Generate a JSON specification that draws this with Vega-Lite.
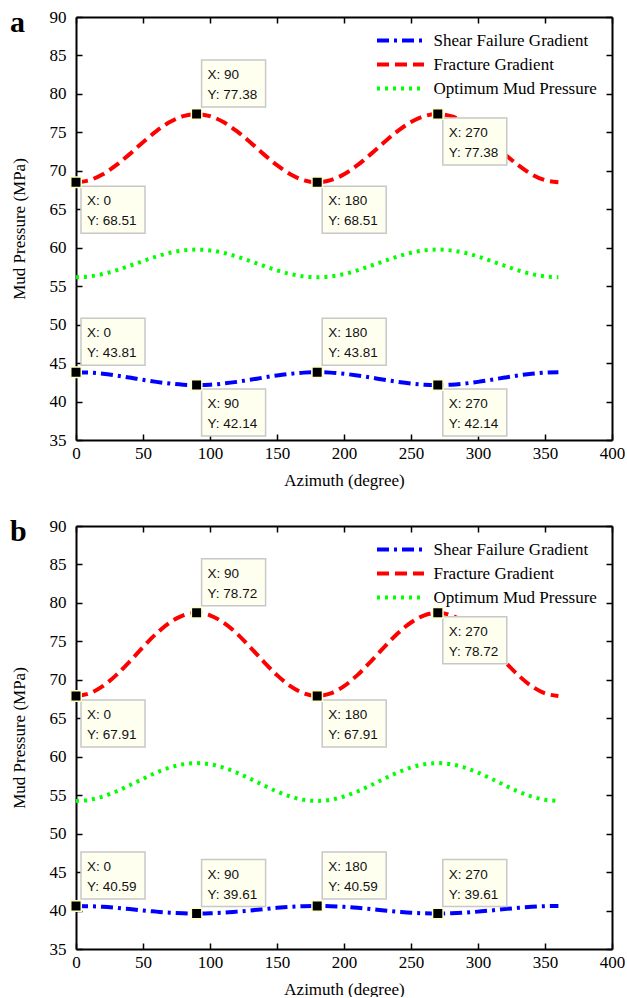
{
  "$schema": "https://vega.github.io/schema/vega-lite/v6.json",
  "background": "white",
  "padding": {"left": 10, "top": 8, "right": 0, "bottom": 0},
  "config": {
    "view": {"stroke": null},
    "legend": {
      "labelFont": "Liberation Serif",
      "labelFontSize": 17,
      "labelColor": "black",
      "labelLimit": 400,
      "symbolType": "M-4,0H4",
      "symbolSize": 138,
      "symbolStrokeWidth": 4,
      "symbolOpacity": 1,
      "labelOffset": 24.5,
      "rowPadding": 6,
      "padding": 0,
      "offset": 15
    }
  },
  "datasets": {
    "a_lines": [
      {"series":"Shear Failure Gradient","x":0,"y":43.81},{"series":"Shear Failure Gradient","x":10,"y":43.76},{"series":"Shear Failure Gradient","x":20,"y":43.61},{"series":"Shear Failure Gradient","x":30,"y":43.39},{"series":"Shear Failure Gradient","x":40,"y":43.12},{"series":"Shear Failure Gradient","x":50,"y":42.83},{"series":"Shear Failure Gradient","x":60,"y":42.56},{"series":"Shear Failure Gradient","x":70,"y":42.34},{"series":"Shear Failure Gradient","x":80,"y":42.19},{"series":"Shear Failure Gradient","x":90,"y":42.14},
      {"series":"Shear Failure Gradient","x":100,"y":42.19},{"series":"Shear Failure Gradient","x":110,"y":42.34},{"series":"Shear Failure Gradient","x":120,"y":42.56},{"series":"Shear Failure Gradient","x":130,"y":42.83},{"series":"Shear Failure Gradient","x":140,"y":43.12},{"series":"Shear Failure Gradient","x":150,"y":43.39},{"series":"Shear Failure Gradient","x":160,"y":43.61},{"series":"Shear Failure Gradient","x":170,"y":43.76},{"series":"Shear Failure Gradient","x":180,"y":43.81},
      {"series":"Shear Failure Gradient","x":190,"y":43.76},{"series":"Shear Failure Gradient","x":200,"y":43.61},{"series":"Shear Failure Gradient","x":210,"y":43.39},{"series":"Shear Failure Gradient","x":220,"y":43.12},{"series":"Shear Failure Gradient","x":230,"y":42.83},{"series":"Shear Failure Gradient","x":240,"y":42.56},{"series":"Shear Failure Gradient","x":250,"y":42.34},{"series":"Shear Failure Gradient","x":260,"y":42.19},{"series":"Shear Failure Gradient","x":270,"y":42.14},
      {"series":"Shear Failure Gradient","x":280,"y":42.19},{"series":"Shear Failure Gradient","x":290,"y":42.34},{"series":"Shear Failure Gradient","x":300,"y":42.56},{"series":"Shear Failure Gradient","x":310,"y":42.83},{"series":"Shear Failure Gradient","x":320,"y":43.12},{"series":"Shear Failure Gradient","x":330,"y":43.39},{"series":"Shear Failure Gradient","x":340,"y":43.61},{"series":"Shear Failure Gradient","x":350,"y":43.76},{"series":"Shear Failure Gradient","x":360,"y":43.81},
      {"series":"Fracture Gradient","x":0,"y":68.51},{"series":"Fracture Gradient","x":10,"y":68.78},{"series":"Fracture Gradient","x":20,"y":69.55},{"series":"Fracture Gradient","x":30,"y":70.73},{"series":"Fracture Gradient","x":40,"y":72.17},{"series":"Fracture Gradient","x":50,"y":73.72},{"series":"Fracture Gradient","x":60,"y":75.16},{"series":"Fracture Gradient","x":70,"y":76.34},{"series":"Fracture Gradient","x":80,"y":77.11},{"series":"Fracture Gradient","x":90,"y":77.38},
      {"series":"Fracture Gradient","x":100,"y":77.11},{"series":"Fracture Gradient","x":110,"y":76.34},{"series":"Fracture Gradient","x":120,"y":75.16},{"series":"Fracture Gradient","x":130,"y":73.72},{"series":"Fracture Gradient","x":140,"y":72.17},{"series":"Fracture Gradient","x":150,"y":70.73},{"series":"Fracture Gradient","x":160,"y":69.55},{"series":"Fracture Gradient","x":170,"y":68.78},{"series":"Fracture Gradient","x":180,"y":68.51},
      {"series":"Fracture Gradient","x":190,"y":68.78},{"series":"Fracture Gradient","x":200,"y":69.55},{"series":"Fracture Gradient","x":210,"y":70.73},{"series":"Fracture Gradient","x":220,"y":72.17},{"series":"Fracture Gradient","x":230,"y":73.72},{"series":"Fracture Gradient","x":240,"y":75.16},{"series":"Fracture Gradient","x":250,"y":76.34},{"series":"Fracture Gradient","x":260,"y":77.11},{"series":"Fracture Gradient","x":270,"y":77.38},
      {"series":"Fracture Gradient","x":280,"y":77.11},{"series":"Fracture Gradient","x":290,"y":76.34},{"series":"Fracture Gradient","x":300,"y":75.16},{"series":"Fracture Gradient","x":310,"y":73.72},{"series":"Fracture Gradient","x":320,"y":72.17},{"series":"Fracture Gradient","x":330,"y":70.73},{"series":"Fracture Gradient","x":340,"y":69.55},{"series":"Fracture Gradient","x":350,"y":68.78},{"series":"Fracture Gradient","x":360,"y":68.51},
      {"series":"Optimum Mud Pressure","x":0,"y":56.16},{"series":"Optimum Mud Pressure","x":10,"y":56.27},{"series":"Optimum Mud Pressure","x":20,"y":56.58},{"series":"Optimum Mud Pressure","x":30,"y":57.06},{"series":"Optimum Mud Pressure","x":40,"y":57.65},{"series":"Optimum Mud Pressure","x":50,"y":58.27},{"series":"Optimum Mud Pressure","x":60,"y":58.86},{"series":"Optimum Mud Pressure","x":70,"y":59.34},{"series":"Optimum Mud Pressure","x":80,"y":59.65},{"series":"Optimum Mud Pressure","x":90,"y":59.76},
      {"series":"Optimum Mud Pressure","x":100,"y":59.65},{"series":"Optimum Mud Pressure","x":110,"y":59.34},{"series":"Optimum Mud Pressure","x":120,"y":58.86},{"series":"Optimum Mud Pressure","x":130,"y":58.27},{"series":"Optimum Mud Pressure","x":140,"y":57.65},{"series":"Optimum Mud Pressure","x":150,"y":57.06},{"series":"Optimum Mud Pressure","x":160,"y":56.58},{"series":"Optimum Mud Pressure","x":170,"y":56.27},{"series":"Optimum Mud Pressure","x":180,"y":56.16},
      {"series":"Optimum Mud Pressure","x":190,"y":56.27},{"series":"Optimum Mud Pressure","x":200,"y":56.58},{"series":"Optimum Mud Pressure","x":210,"y":57.06},{"series":"Optimum Mud Pressure","x":220,"y":57.65},{"series":"Optimum Mud Pressure","x":230,"y":58.27},{"series":"Optimum Mud Pressure","x":240,"y":58.86},{"series":"Optimum Mud Pressure","x":250,"y":59.34},{"series":"Optimum Mud Pressure","x":260,"y":59.65},{"series":"Optimum Mud Pressure","x":270,"y":59.76},
      {"series":"Optimum Mud Pressure","x":280,"y":59.65},{"series":"Optimum Mud Pressure","x":290,"y":59.34},{"series":"Optimum Mud Pressure","x":300,"y":58.86},{"series":"Optimum Mud Pressure","x":310,"y":58.27},{"series":"Optimum Mud Pressure","x":320,"y":57.65},{"series":"Optimum Mud Pressure","x":330,"y":57.06},{"series":"Optimum Mud Pressure","x":340,"y":56.58},{"series":"Optimum Mud Pressure","x":350,"y":56.27},{"series":"Optimum Mud Pressure","x":360,"y":56.16}
    ],
    "b_lines": [
      {"series":"Shear Failure Gradient","x":0,"y":40.59},{"series":"Shear Failure Gradient","x":10,"y":40.56},{"series":"Shear Failure Gradient","x":20,"y":40.48},{"series":"Shear Failure Gradient","x":30,"y":40.35},{"series":"Shear Failure Gradient","x":40,"y":40.19},{"series":"Shear Failure Gradient","x":50,"y":40.01},{"series":"Shear Failure Gradient","x":60,"y":39.86},{"series":"Shear Failure Gradient","x":70,"y":39.72},{"series":"Shear Failure Gradient","x":80,"y":39.64},{"series":"Shear Failure Gradient","x":90,"y":39.61},
      {"series":"Shear Failure Gradient","x":100,"y":39.64},{"series":"Shear Failure Gradient","x":110,"y":39.72},{"series":"Shear Failure Gradient","x":120,"y":39.86},{"series":"Shear Failure Gradient","x":130,"y":40.01},{"series":"Shear Failure Gradient","x":140,"y":40.19},{"series":"Shear Failure Gradient","x":150,"y":40.35},{"series":"Shear Failure Gradient","x":160,"y":40.48},{"series":"Shear Failure Gradient","x":170,"y":40.56},{"series":"Shear Failure Gradient","x":180,"y":40.59},
      {"series":"Shear Failure Gradient","x":190,"y":40.56},{"series":"Shear Failure Gradient","x":200,"y":40.48},{"series":"Shear Failure Gradient","x":210,"y":40.35},{"series":"Shear Failure Gradient","x":220,"y":40.19},{"series":"Shear Failure Gradient","x":230,"y":40.01},{"series":"Shear Failure Gradient","x":240,"y":39.86},{"series":"Shear Failure Gradient","x":250,"y":39.72},{"series":"Shear Failure Gradient","x":260,"y":39.64},{"series":"Shear Failure Gradient","x":270,"y":39.61},
      {"series":"Shear Failure Gradient","x":280,"y":39.64},{"series":"Shear Failure Gradient","x":290,"y":39.72},{"series":"Shear Failure Gradient","x":300,"y":39.86},{"series":"Shear Failure Gradient","x":310,"y":40.01},{"series":"Shear Failure Gradient","x":320,"y":40.19},{"series":"Shear Failure Gradient","x":330,"y":40.35},{"series":"Shear Failure Gradient","x":340,"y":40.48},{"series":"Shear Failure Gradient","x":350,"y":40.56},{"series":"Shear Failure Gradient","x":360,"y":40.59},
      {"series":"Fracture Gradient","x":0,"y":67.91},{"series":"Fracture Gradient","x":10,"y":68.24},{"series":"Fracture Gradient","x":20,"y":69.18},{"series":"Fracture Gradient","x":30,"y":70.61},{"series":"Fracture Gradient","x":40,"y":72.38},{"series":"Fracture Gradient","x":50,"y":74.25},{"series":"Fracture Gradient","x":60,"y":76.02},{"series":"Fracture Gradient","x":70,"y":77.45},{"series":"Fracture Gradient","x":80,"y":78.39},{"series":"Fracture Gradient","x":90,"y":78.72},
      {"series":"Fracture Gradient","x":100,"y":78.39},{"series":"Fracture Gradient","x":110,"y":77.45},{"series":"Fracture Gradient","x":120,"y":76.02},{"series":"Fracture Gradient","x":130,"y":74.25},{"series":"Fracture Gradient","x":140,"y":72.38},{"series":"Fracture Gradient","x":150,"y":70.61},{"series":"Fracture Gradient","x":160,"y":69.18},{"series":"Fracture Gradient","x":170,"y":68.24},{"series":"Fracture Gradient","x":180,"y":67.91},
      {"series":"Fracture Gradient","x":190,"y":68.24},{"series":"Fracture Gradient","x":200,"y":69.18},{"series":"Fracture Gradient","x":210,"y":70.61},{"series":"Fracture Gradient","x":220,"y":72.38},{"series":"Fracture Gradient","x":230,"y":74.25},{"series":"Fracture Gradient","x":240,"y":76.02},{"series":"Fracture Gradient","x":250,"y":77.45},{"series":"Fracture Gradient","x":260,"y":78.39},{"series":"Fracture Gradient","x":270,"y":78.72},
      {"series":"Fracture Gradient","x":280,"y":78.39},{"series":"Fracture Gradient","x":290,"y":77.45},{"series":"Fracture Gradient","x":300,"y":76.02},{"series":"Fracture Gradient","x":310,"y":74.25},{"series":"Fracture Gradient","x":320,"y":72.38},{"series":"Fracture Gradient","x":330,"y":70.61},{"series":"Fracture Gradient","x":340,"y":69.18},{"series":"Fracture Gradient","x":350,"y":68.24},{"series":"Fracture Gradient","x":360,"y":67.91},
      {"series":"Optimum Mud Pressure","x":0,"y":54.25},{"series":"Optimum Mud Pressure","x":10,"y":54.40},{"series":"Optimum Mud Pressure","x":20,"y":54.83},{"series":"Optimum Mud Pressure","x":30,"y":55.48},{"series":"Optimum Mud Pressure","x":40,"y":56.29},{"series":"Optimum Mud Pressure","x":50,"y":57.13},{"series":"Optimum Mud Pressure","x":60,"y":57.94},{"series":"Optimum Mud Pressure","x":70,"y":58.59},{"series":"Optimum Mud Pressure","x":80,"y":59.02},{"series":"Optimum Mud Pressure","x":90,"y":59.17},
      {"series":"Optimum Mud Pressure","x":100,"y":59.02},{"series":"Optimum Mud Pressure","x":110,"y":58.59},{"series":"Optimum Mud Pressure","x":120,"y":57.94},{"series":"Optimum Mud Pressure","x":130,"y":57.13},{"series":"Optimum Mud Pressure","x":140,"y":56.29},{"series":"Optimum Mud Pressure","x":150,"y":55.48},{"series":"Optimum Mud Pressure","x":160,"y":54.83},{"series":"Optimum Mud Pressure","x":170,"y":54.40},{"series":"Optimum Mud Pressure","x":180,"y":54.25},
      {"series":"Optimum Mud Pressure","x":190,"y":54.40},{"series":"Optimum Mud Pressure","x":200,"y":54.83},{"series":"Optimum Mud Pressure","x":210,"y":55.48},{"series":"Optimum Mud Pressure","x":220,"y":56.29},{"series":"Optimum Mud Pressure","x":230,"y":57.13},{"series":"Optimum Mud Pressure","x":240,"y":57.94},{"series":"Optimum Mud Pressure","x":250,"y":58.59},{"series":"Optimum Mud Pressure","x":260,"y":59.02},{"series":"Optimum Mud Pressure","x":270,"y":59.17},
      {"series":"Optimum Mud Pressure","x":280,"y":59.02},{"series":"Optimum Mud Pressure","x":290,"y":58.59},{"series":"Optimum Mud Pressure","x":300,"y":57.94},{"series":"Optimum Mud Pressure","x":310,"y":57.13},{"series":"Optimum Mud Pressure","x":320,"y":56.29},{"series":"Optimum Mud Pressure","x":330,"y":55.48},{"series":"Optimum Mud Pressure","x":340,"y":54.83},{"series":"Optimum Mud Pressure","x":350,"y":54.40},{"series":"Optimum Mud Pressure","x":360,"y":54.25}
    ],
    "a_tips": [
      {"series":"Fracture Gradient","x":0,"y":68.51},{"series":"Fracture Gradient","x":90,"y":77.38},{"series":"Fracture Gradient","x":180,"y":68.51},{"series":"Fracture Gradient","x":270,"y":77.38},
      {"series":"Shear Failure Gradient","x":0,"y":43.81},{"series":"Shear Failure Gradient","x":90,"y":42.14},{"series":"Shear Failure Gradient","x":180,"y":43.81},{"series":"Shear Failure Gradient","x":270,"y":42.14}
    ],
    "b_tips": [
      {"series":"Fracture Gradient","x":0,"y":67.91},{"series":"Fracture Gradient","x":90,"y":78.72},{"series":"Fracture Gradient","x":180,"y":67.91},{"series":"Fracture Gradient","x":270,"y":78.72},
      {"series":"Shear Failure Gradient","x":0,"y":40.59},{"series":"Shear Failure Gradient","x":90,"y":39.61},{"series":"Shear Failure Gradient","x":180,"y":40.59},{"series":"Shear Failure Gradient","x":270,"y":39.61}
    ]
  },
  "resolve": {
    "scale": {"color": "independent", "strokeDash": "independent"},
    "legend": {"color": "independent", "strokeDash": "independent"}
  },
  "spacing": 29,
  "vconcat": [
    {
      "width": 536,
      "height": 423,
      "title": {"text": "a", "anchor": "start", "frame": "bounds", "font": "Liberation Serif", "fontSize": 30, "fontWeight": "bold", "color": "black", "offset": 0, "dy": 30},
      "resolve": {"axis": {"x": "independent", "y": "independent"}},
      "layer": [
        {
          "data": {"name": "a_lines"},
          "mark": {"type": "line", "strokeWidth": 4, "interpolate": "monotone"},
          "encoding": {
            "x": {"field": "x", "type": "quantitative", "scale": {"domain": [0, 400], "nice": false, "zero": false},
              "axis": {"orient": "bottom", "values": [0,50,100,150,200,250,300,350,400], "labelFlush": false, "labelOverlap": false, "grid": false, "domainColor": "black", "domainWidth": 2, "tickColor": "black", "tickWidth": 1.5, "tickSize": -6, "labelPadding": 11, "labelFont": "Liberation Serif", "labelFontSize": 17, "labelColor": "black", "title": "Azimuth (degree)", "titleFont": "Liberation Serif", "titleFontSize": 17, "titleFontWeight": "normal", "titleColor": "black", "titlePadding": 11}},
            "y": {"field": "y", "type": "quantitative", "scale": {"domain": [35, 90], "nice": false, "zero": false},
              "axis": {"orient": "left", "values": [35,40,45,50,55,60,65,70,75,80,85,90], "labelFlush": false, "labelOverlap": false, "grid": false, "domainColor": "black", "domainWidth": 2, "tickColor": "black", "tickWidth": 1.5, "tickSize": -6, "labelPadding": 16, "labelFont": "Liberation Serif", "labelFontSize": 17, "labelColor": "black", "title": "Mud Pressure (MPa)", "titleFont": "Liberation Serif", "titleFontSize": 17, "titleFontWeight": "normal", "titleColor": "black", "titlePadding": 21}},
            "color": {"field": "series", "type": "nominal", "scale": {"domain": ["Shear Failure Gradient", "Fracture Gradient", "Optimum Mud Pressure"], "range": ["#0000FF", "#FF0000", "#00FF00"]}, "legend": {"title": null, "orient": "top-right"}},
            "strokeDash": {"field": "series", "type": "nominal", "scale": {"domain": ["Shear Failure Gradient", "Fracture Gradient", "Optimum Mud Pressure"], "range": [[12, 5, 3, 5], [12, 6], [3, 5]]}, "legend": {"title": null, "orient": "top-right"}}
          }
        },
        {
          "data": {"name": "a_tips"},
          "transform": [{"filter": "!((datum.series == 'Fracture Gradient' && datum.x == 90) || (datum.series == 'Shear Failure Gradient' && (datum.x == 0 || datum.x == 180)))"}],
          "mark": {"type": "point", "shape": "M5,4H69V51H5Z", "size": 4, "filled": true, "fill": "#FFFFF0", "stroke": "#C8C8C8", "strokeWidth": 1.5, "opacity": 1},
          "encoding": {"x": {"field": "x", "type": "quantitative", "axis": null}, "y": {"field": "y", "type": "quantitative", "axis": null}}
        },
        {
          "data": {"name": "a_tips"},
          "transform": [{"filter": "(datum.series == 'Fracture Gradient' && datum.x == 90) || (datum.series == 'Shear Failure Gradient' && (datum.x == 0 || datum.x == 180))"}],
          "mark": {"type": "point", "shape": "M5,-7H69V-54H5Z", "size": 4, "filled": true, "fill": "#FFFFF0", "stroke": "#C8C8C8", "strokeWidth": 1.5, "opacity": 1},
          "encoding": {"x": {"field": "x", "type": "quantitative", "axis": null}, "y": {"field": "y", "type": "quantitative", "axis": null}}
        },
        {
          "data": {"name": "a_tips"},
          "transform": [
            {"filter": "!((datum.series == 'Fracture Gradient' && datum.x == 90) || (datum.series == 'Shear Failure Gradient' && (datum.x == 0 || datum.x == 180)))"},
            {"calculate": "'X: ' + datum.x + '\\nY: ' + format(datum.y, '.2f')", "as": "label"}
          ],
          "mark": {"type": "text", "align": "left", "baseline": "alphabetic", "dx": 11, "dy": 23, "font": "Liberation Sans", "fontSize": 13.5, "lineHeight": 20, "lineBreak": "\n", "color": "#111111"},
          "encoding": {"x": {"field": "x", "type": "quantitative", "axis": null}, "y": {"field": "y", "type": "quantitative", "axis": null}, "text": {"field": "label"}}
        },
        {
          "data": {"name": "a_tips"},
          "transform": [
            {"filter": "(datum.series == 'Fracture Gradient' && datum.x == 90) || (datum.series == 'Shear Failure Gradient' && (datum.x == 0 || datum.x == 180))"},
            {"calculate": "'X: ' + datum.x + '\\nY: ' + format(datum.y, '.2f')", "as": "label"}
          ],
          "mark": {"type": "text", "align": "left", "baseline": "alphabetic", "dx": 11, "dy": -35, "font": "Liberation Sans", "fontSize": 13.5, "lineHeight": 20, "lineBreak": "\n", "color": "#111111"},
          "encoding": {"x": {"field": "x", "type": "quantitative", "axis": null}, "y": {"field": "y", "type": "quantitative", "axis": null}, "text": {"field": "label"}}
        },
        {
          "data": {"name": "a_tips"},
          "mark": {"type": "point", "shape": "square", "size": 110, "filled": true, "fill": "black", "stroke": "#FFFFC8", "strokeWidth": 1.5, "opacity": 1},
          "encoding": {
            "x": {"field": "x", "type": "quantitative", "axis": {"orient": "top", "values": [0,50,100,150,200,250,300,350,400], "labels": false, "title": null, "grid": false, "domainColor": "black", "domainWidth": 2, "tickColor": "black", "tickWidth": 1.5, "tickSize": -6}},
            "y": {"field": "y", "type": "quantitative", "axis": {"orient": "right", "values": [35,40,45,50,55,60,65,70,75,80,85,90], "labels": false, "title": null, "grid": false, "domainColor": "black", "domainWidth": 2, "tickColor": "black", "tickWidth": 1.5, "tickSize": -6}}
          }
        }
      ]
    },
    {
      "width": 536,
      "height": 423,
      "title": {"text": "b", "anchor": "start", "frame": "bounds", "font": "Liberation Serif", "fontSize": 30, "fontWeight": "bold", "color": "black", "offset": 0, "dy": 30},
      "resolve": {"axis": {"x": "independent", "y": "independent"}},
      "layer": [
        {
          "data": {"name": "b_lines"},
          "mark": {"type": "line", "strokeWidth": 4, "interpolate": "monotone"},
          "encoding": {
            "x": {"field": "x", "type": "quantitative", "scale": {"domain": [0, 400], "nice": false, "zero": false},
              "axis": {"orient": "bottom", "values": [0,50,100,150,200,250,300,350,400], "labelFlush": false, "labelOverlap": false, "grid": false, "domainColor": "black", "domainWidth": 2, "tickColor": "black", "tickWidth": 1.5, "tickSize": -6, "labelPadding": 11, "labelFont": "Liberation Serif", "labelFontSize": 17, "labelColor": "black", "title": "Azimuth (degree)", "titleFont": "Liberation Serif", "titleFontSize": 17, "titleFontWeight": "normal", "titleColor": "black", "titlePadding": 11}},
            "y": {"field": "y", "type": "quantitative", "scale": {"domain": [35, 90], "nice": false, "zero": false},
              "axis": {"orient": "left", "values": [35,40,45,50,55,60,65,70,75,80,85,90], "labelFlush": false, "labelOverlap": false, "grid": false, "domainColor": "black", "domainWidth": 2, "tickColor": "black", "tickWidth": 1.5, "tickSize": -6, "labelPadding": 16, "labelFont": "Liberation Serif", "labelFontSize": 17, "labelColor": "black", "title": "Mud Pressure (MPa)", "titleFont": "Liberation Serif", "titleFontSize": 17, "titleFontWeight": "normal", "titleColor": "black", "titlePadding": 21}},
            "color": {"field": "series", "type": "nominal", "scale": {"domain": ["Shear Failure Gradient", "Fracture Gradient", "Optimum Mud Pressure"], "range": ["#0000FF", "#FF0000", "#00FF00"]}, "legend": {"title": null, "orient": "top-right"}},
            "strokeDash": {"field": "series", "type": "nominal", "scale": {"domain": ["Shear Failure Gradient", "Fracture Gradient", "Optimum Mud Pressure"], "range": [[12, 5, 3, 5], [12, 6], [3, 5]]}, "legend": {"title": null, "orient": "top-right"}}
          }
        },
        {
          "data": {"name": "b_tips"},
          "transform": [{"filter": "!((datum.series == 'Fracture Gradient' && datum.x == 90) || datum.series == 'Shear Failure Gradient')"}],
          "mark": {"type": "point", "shape": "M5,4H69V51H5Z", "size": 4, "filled": true, "fill": "#FFFFF0", "stroke": "#C8C8C8", "strokeWidth": 1.5, "opacity": 1},
          "encoding": {"x": {"field": "x", "type": "quantitative", "axis": null}, "y": {"field": "y", "type": "quantitative", "axis": null}}
        },
        {
          "data": {"name": "b_tips"},
          "transform": [{"filter": "(datum.series == 'Fracture Gradient' && datum.x == 90) || datum.series == 'Shear Failure Gradient'"}],
          "mark": {"type": "point", "shape": "M5,-7H69V-54H5Z", "size": 4, "filled": true, "fill": "#FFFFF0", "stroke": "#C8C8C8", "strokeWidth": 1.5, "opacity": 1},
          "encoding": {"x": {"field": "x", "type": "quantitative", "axis": null}, "y": {"field": "y", "type": "quantitative", "axis": null}}
        },
        {
          "data": {"name": "b_tips"},
          "transform": [
            {"filter": "!((datum.series == 'Fracture Gradient' && datum.x == 90) || datum.series == 'Shear Failure Gradient')"},
            {"calculate": "'X: ' + datum.x + '\\nY: ' + format(datum.y, '.2f')", "as": "label"}
          ],
          "mark": {"type": "text", "align": "left", "baseline": "alphabetic", "dx": 11, "dy": 23, "font": "Liberation Sans", "fontSize": 13.5, "lineHeight": 20, "lineBreak": "\n", "color": "#111111"},
          "encoding": {"x": {"field": "x", "type": "quantitative", "axis": null}, "y": {"field": "y", "type": "quantitative", "axis": null}, "text": {"field": "label"}}
        },
        {
          "data": {"name": "b_tips"},
          "transform": [
            {"filter": "(datum.series == 'Fracture Gradient' && datum.x == 90) || datum.series == 'Shear Failure Gradient'"},
            {"calculate": "'X: ' + datum.x + '\\nY: ' + format(datum.y, '.2f')", "as": "label"}
          ],
          "mark": {"type": "text", "align": "left", "baseline": "alphabetic", "dx": 11, "dy": -35, "font": "Liberation Sans", "fontSize": 13.5, "lineHeight": 20, "lineBreak": "\n", "color": "#111111"},
          "encoding": {"x": {"field": "x", "type": "quantitative", "axis": null}, "y": {"field": "y", "type": "quantitative", "axis": null}, "text": {"field": "label"}}
        },
        {
          "data": {"name": "b_tips"},
          "mark": {"type": "point", "shape": "square", "size": 110, "filled": true, "fill": "black", "stroke": "#FFFFC8", "strokeWidth": 1.5, "opacity": 1},
          "encoding": {
            "x": {"field": "x", "type": "quantitative", "axis": {"orient": "top", "values": [0,50,100,150,200,250,300,350,400], "labels": false, "title": null, "grid": false, "domainColor": "black", "domainWidth": 2, "tickColor": "black", "tickWidth": 1.5, "tickSize": -6}},
            "y": {"field": "y", "type": "quantitative", "axis": {"orient": "right", "values": [35,40,45,50,55,60,65,70,75,80,85,90], "labels": false, "title": null, "grid": false, "domainColor": "black", "domainWidth": 2, "tickColor": "black", "tickWidth": 1.5, "tickSize": -6}}
          }
        }
      ]
    }
  ]
}
